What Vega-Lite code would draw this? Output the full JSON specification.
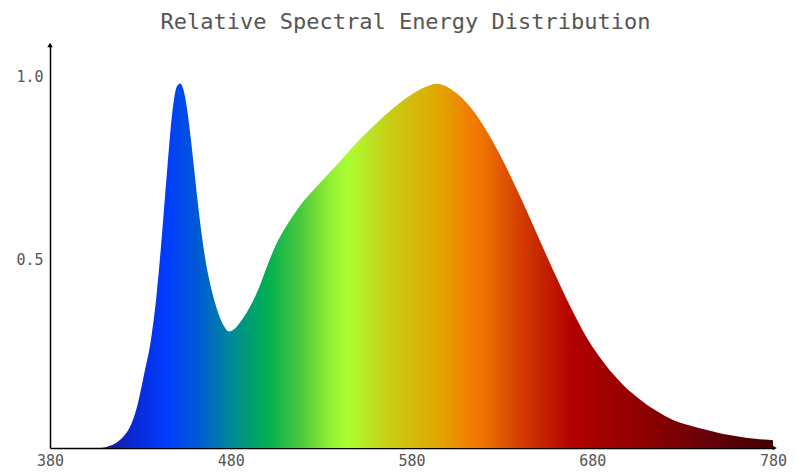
{
  "$schema": "https://vega.github.io/schema/vega-lite/v6.json",
  "width": 723,
  "height": 403,
  "autosize": "none",
  "padding": {"left": 50, "top": 45, "right": 23, "bottom": 24},
  "background": "white",
  "title": {
    "text": "Relative Spectral Energy Distribution",
    "font": "DejaVu Sans Mono",
    "fontSize": 22,
    "fontWeight": "normal",
    "color": "#555555",
    "anchor": "middle",
    "dx": -6,
    "offset": 9
  },
  "datasets": {
    "spd": [
      {"nm": 380, "v": 0}, {"nm": 400, "v": 0}, {"nm": 408, "v": 0},
      {"nm": 412, "v": 0.004}, {"nm": 416, "v": 0.012}, {"nm": 420, "v": 0.028},
      {"nm": 424, "v": 0.055}, {"nm": 428, "v": 0.11}, {"nm": 432, "v": 0.2},
      {"nm": 436, "v": 0.3}, {"nm": 439, "v": 0.42}, {"nm": 442, "v": 0.585},
      {"nm": 445, "v": 0.77}, {"nm": 448, "v": 0.93}, {"nm": 450, "v": 0.985},
      {"nm": 452, "v": 0.995}, {"nm": 454, "v": 0.975}, {"nm": 456, "v": 0.92},
      {"nm": 458, "v": 0.84}, {"nm": 460, "v": 0.75}, {"nm": 462, "v": 0.66},
      {"nm": 464, "v": 0.58}, {"nm": 466, "v": 0.513}, {"nm": 468, "v": 0.462},
      {"nm": 470, "v": 0.42}, {"nm": 473, "v": 0.37}, {"nm": 476, "v": 0.335},
      {"nm": 479, "v": 0.318}, {"nm": 482, "v": 0.325}, {"nm": 485, "v": 0.342},
      {"nm": 490, "v": 0.38}, {"nm": 495, "v": 0.43}, {"nm": 500, "v": 0.495},
      {"nm": 505, "v": 0.555}, {"nm": 510, "v": 0.6}, {"nm": 515, "v": 0.638},
      {"nm": 520, "v": 0.672}, {"nm": 525, "v": 0.7}, {"nm": 530, "v": 0.727},
      {"nm": 540, "v": 0.78}, {"nm": 550, "v": 0.835}, {"nm": 560, "v": 0.884},
      {"nm": 570, "v": 0.928}, {"nm": 580, "v": 0.965}, {"nm": 588, "v": 0.986},
      {"nm": 594, "v": 0.994}, {"nm": 600, "v": 0.985}, {"nm": 605, "v": 0.968},
      {"nm": 610, "v": 0.945}, {"nm": 615, "v": 0.915}, {"nm": 620, "v": 0.878},
      {"nm": 625, "v": 0.836}, {"nm": 630, "v": 0.79}, {"nm": 635, "v": 0.74},
      {"nm": 640, "v": 0.688}, {"nm": 645, "v": 0.633}, {"nm": 650, "v": 0.577},
      {"nm": 655, "v": 0.522}, {"nm": 660, "v": 0.468}, {"nm": 665, "v": 0.415},
      {"nm": 670, "v": 0.365}, {"nm": 675, "v": 0.318}, {"nm": 680, "v": 0.277},
      {"nm": 685, "v": 0.242}, {"nm": 690, "v": 0.21}, {"nm": 695, "v": 0.183},
      {"nm": 700, "v": 0.158}, {"nm": 705, "v": 0.138}, {"nm": 710, "v": 0.119},
      {"nm": 715, "v": 0.103}, {"nm": 720, "v": 0.088}, {"nm": 725, "v": 0.076},
      {"nm": 730, "v": 0.067}, {"nm": 735, "v": 0.06}, {"nm": 740, "v": 0.053},
      {"nm": 745, "v": 0.047}, {"nm": 750, "v": 0.041}, {"nm": 755, "v": 0.036},
      {"nm": 760, "v": 0.032}, {"nm": 765, "v": 0.028}, {"nm": 770, "v": 0.025},
      {"nm": 775, "v": 0.023}, {"nm": 780, "v": 0.021}
    ],
    "yArrow": [{"nm": 380, "v": 1.1}],
    "xArrow": [{"nm": 781, "v": 0}]
  },
  "config": {
    "view": {"stroke": null},
    "axis": {
      "grid": false,
      "domainColor": "black",
      "domainWidth": 1.5,
      "ticks": false,
      "labelFont": "DejaVu Sans Mono",
      "labelFontSize": 15,
      "labelColor": "#555555",
      "title": null
    }
  },
  "layer": [
    {
      "data": {"name": "spd"},
      "mark": {
        "type": "area",
        "interpolate": "monotone",
        "fill": {
          "gradient": "linear",
          "x1": 0, "x2": 1, "y1": 0, "y2": 0,
          "stops": [
            {"offset": 0, "color": "#202080"},
            {"offset": 0.0875, "color": "#1a1aa0"},
            {"offset": 0.1125, "color": "#0a28d2"},
            {"offset": 0.16, "color": "#003cff"},
            {"offset": 0.205, "color": "#005ad2"},
            {"offset": 0.2525, "color": "#008c96"},
            {"offset": 0.3, "color": "#00af50"},
            {"offset": 0.345, "color": "#46c83c"},
            {"offset": 0.39, "color": "#96f032"},
            {"offset": 0.41, "color": "#aaff32"},
            {"offset": 0.47, "color": "#c8cd14"},
            {"offset": 0.54, "color": "#e1a500"},
            {"offset": 0.575, "color": "#f08200"},
            {"offset": 0.5975, "color": "#f07300"},
            {"offset": 0.6525, "color": "#d23c00"},
            {"offset": 0.7225, "color": "#b40000"},
            {"offset": 0.825, "color": "#8c0000"},
            {"offset": 0.9175, "color": "#64000a"},
            {"offset": 0.9875, "color": "#460000"},
            {"offset": 1, "color": "#420000"}
          ]
        }
      },
      "encoding": {
        "x": {
          "field": "nm",
          "type": "quantitative",
          "scale": {"domain": [380, 780], "nice": false, "zero": false},
          "axis": {"values": [380, 480, 580, 680, 780], "labelPadding": 5, "labelFlush": false}
        },
        "y": {
          "field": "v",
          "type": "quantitative",
          "scale": {"domain": [0, 1.1], "nice": false},
          "axis": {"values": [0.5, 1.0], "format": ".1f", "labelPadding": 7, "labelBaseline": "alphabetic"}
        }
      }
    },
    {
      "data": {"name": "yArrow"},
      "mark": {"type": "point", "shape": "triangle-up", "filled": true, "color": "black", "size": 30, "opacity": 1, "clip": false},
      "encoding": {
        "x": {"field": "nm", "type": "quantitative"},
        "y": {"field": "v", "type": "quantitative"}
      }
    },
    {
      "data": {"name": "xArrow"},
      "mark": {"type": "point", "shape": "triangle-right", "filled": true, "color": "black", "size": 20, "opacity": 1, "clip": false},
      "encoding": {
        "x": {"field": "nm", "type": "quantitative"},
        "y": {"field": "v", "type": "quantitative"}
      }
    }
  ]
}
